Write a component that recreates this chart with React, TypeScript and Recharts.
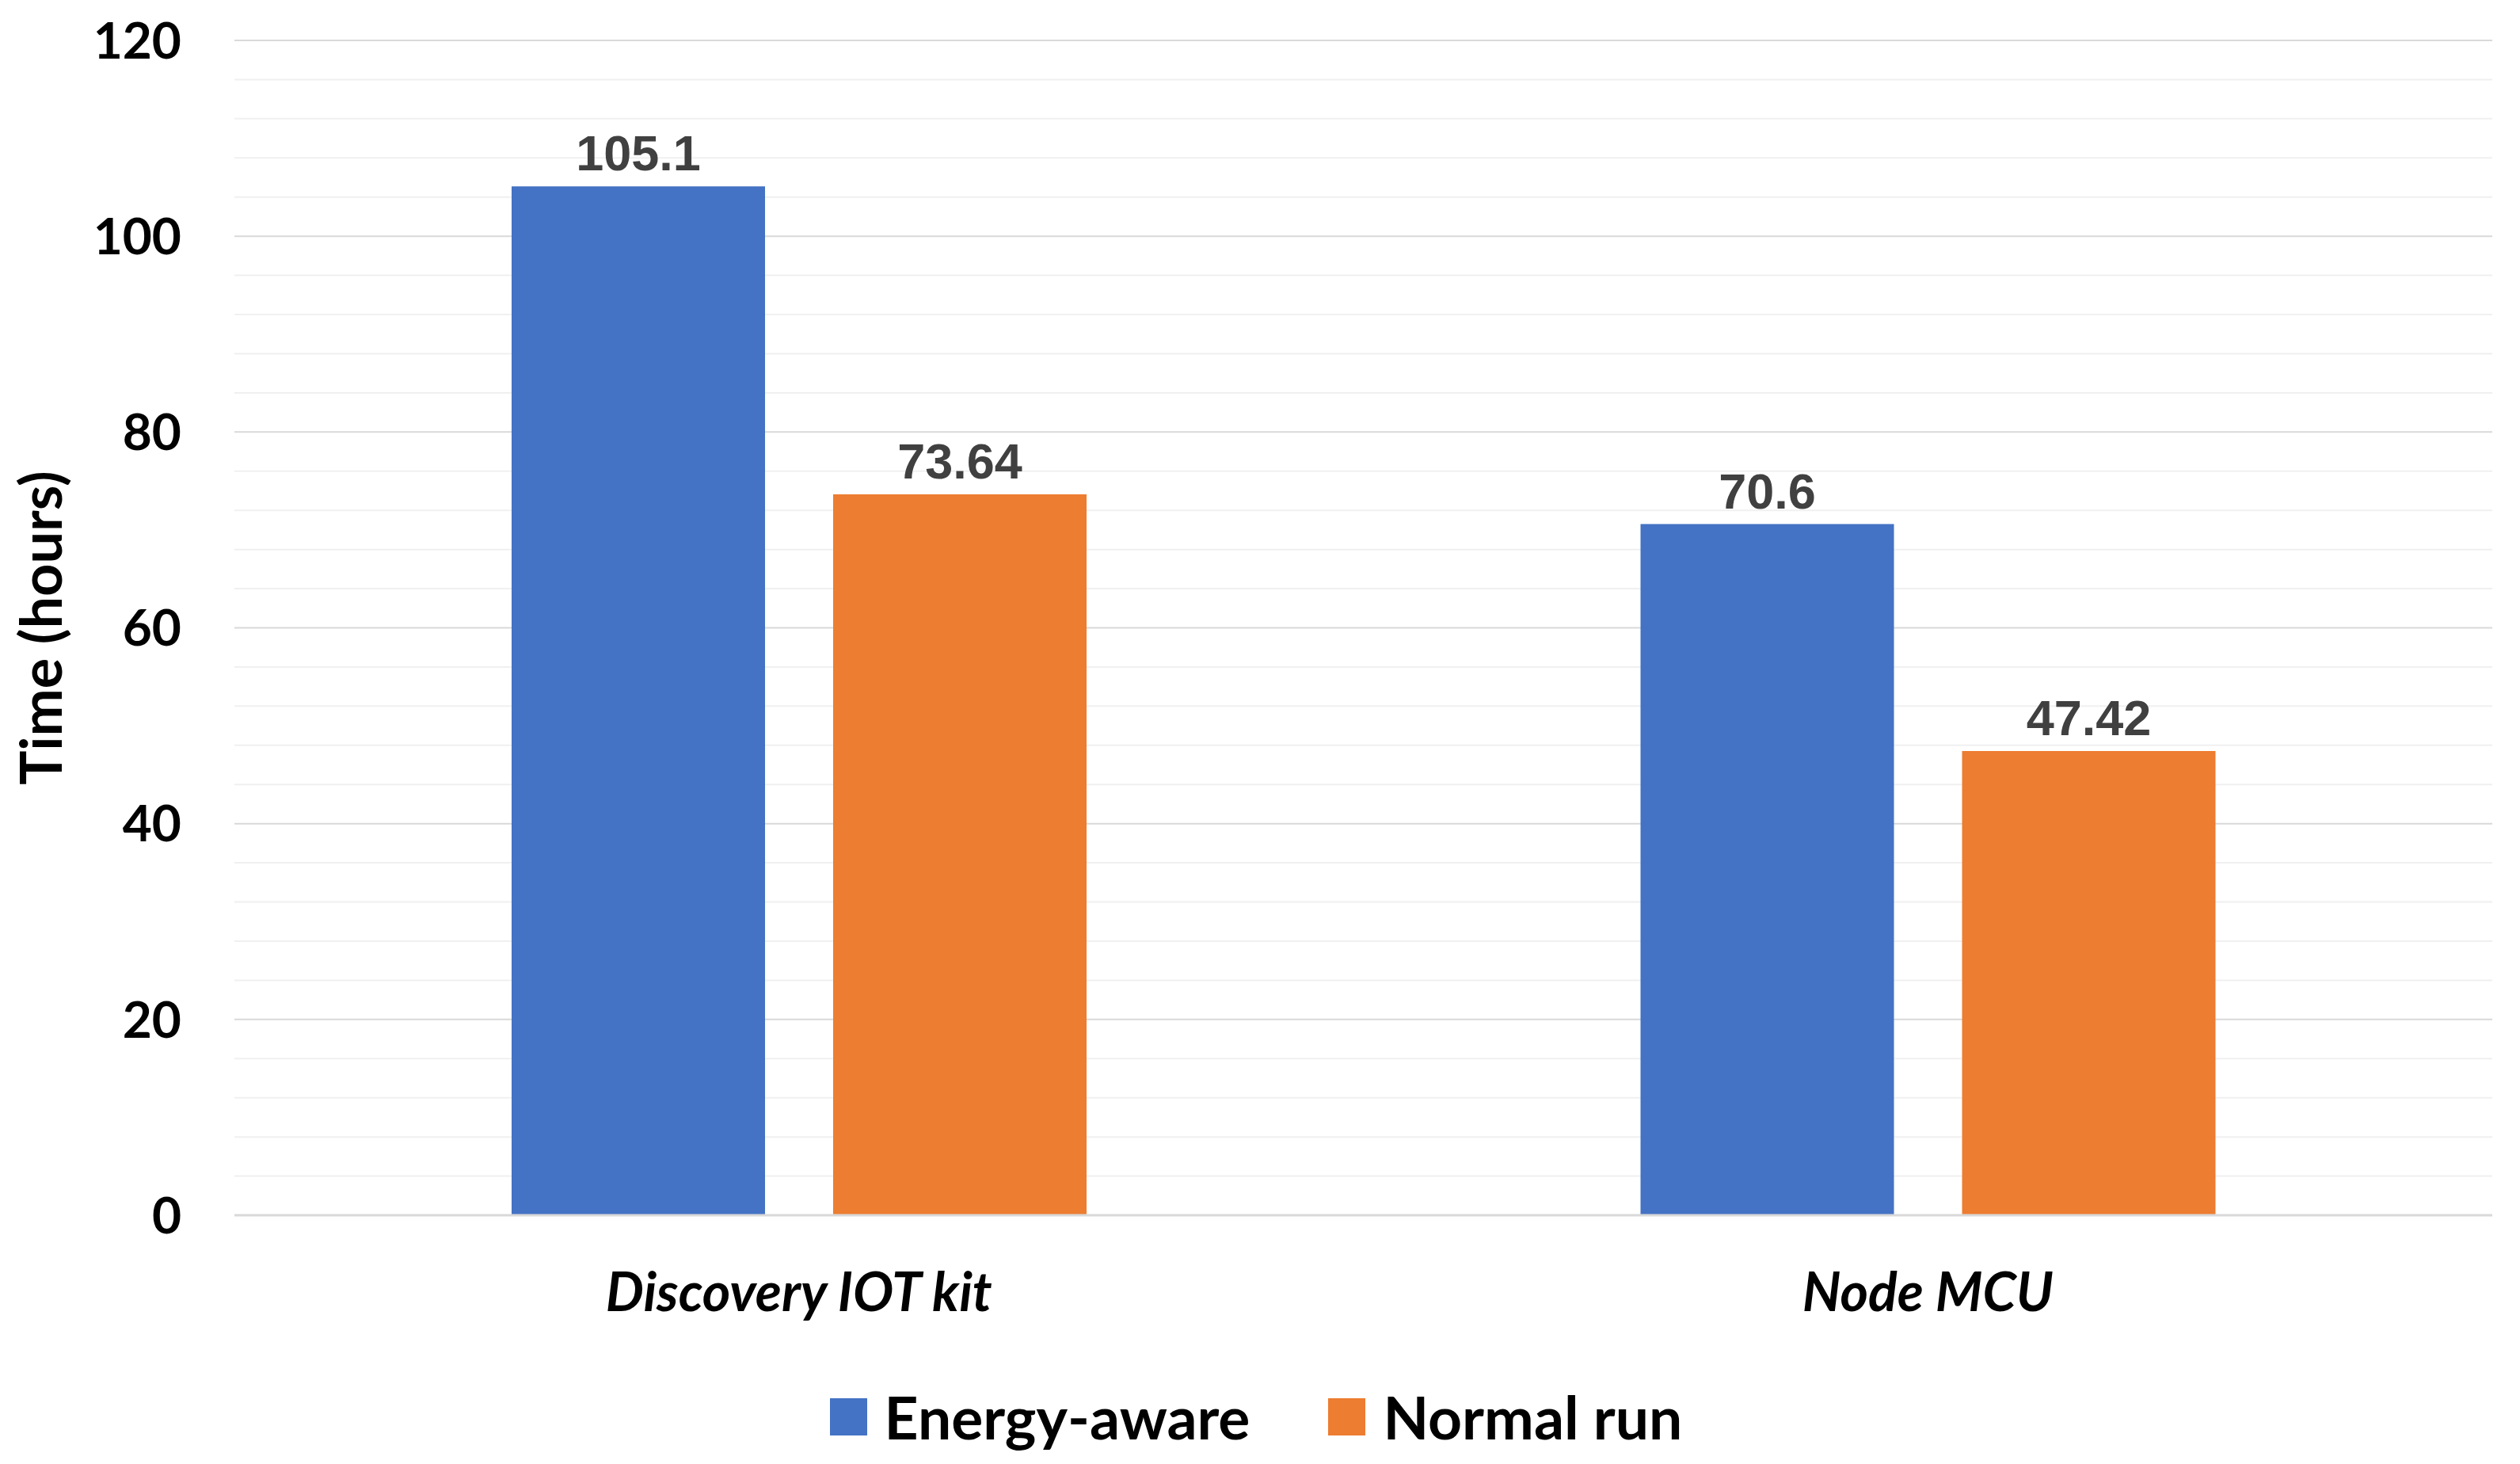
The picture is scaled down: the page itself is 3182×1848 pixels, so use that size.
import React from 'react';
import { BarChart, Bar, XAxis, YAxis, CartesianGrid, Legend, LabelList } from 'recharts';

const categories = ['Discovery IOT kit', 'Node MCU'];
const energyAware = [105.1, 70.6];
const normalRun = [73.64, 47.42];
const yTicks = [0, 20, 40, 60, 80, 100, 120];
const minorTicks = [4, 8, 12, 16, 24, 28, 32, 36, 44, 48, 52, 56, 64, 68, 72, 76, 84, 88, 92, 96, 104, 108, 112, 116];
const seriesNames = ['Energy-aware', 'Normal run'];
const seriesColors = ['#4472C4', '#ED7D31'];

const data = categories.map((c, i) => ({ name: c, energy: energyAware[i], normal: normalRun[i] }));

const W = 3182;
const H = 1848;

const YLabel = (props: any) => {
  const vb = props.viewBox || {};
  const cy = vb.y + vb.height / 2;
  return (
    <text
      x={50}
      y={cy}
      transform={`rotate(-90, 50, ${cy})`}
      textAnchor="middle"
      dominantBaseline="central"
      fontFamily="Lato"
      fontWeight={700}
      fontSize={72}
      fill="#000"
    >
      Time (hours)
    </text>
  );
};

const LegendContent = () => (
  <div style={{ display: 'flex', justifyContent: 'center', alignItems: 'center', height: 47, paddingRight: 10 }}>
    {seriesNames.map((n, i) => (
      <div key={n} style={{ display: 'flex', alignItems: 'center', marginLeft: i === 0 ? 0 : 99 }}>
        <div style={{ width: 47, height: 47, background: seriesColors[i] }} />
        <span
          style={{
            marginLeft: 22,
            fontFamily: 'Lato',
            fontWeight: 700,
            fontSize: 75,
            lineHeight: 1,
            color: '#000',
          }}
        >
          {n}
        </span>
      </div>
    ))}
  </div>
);

export default function App() {
  return (
    <div style={{ position: 'absolute', left: 0, top: 0, width: W, height: H, background: '#fff' }}>
      <BarChart
        width={W}
        height={H}
        data={data}
        margin={{ top: 51, right: 35, left: 0, bottom: 0 }}
        barGap={86}
      >
        <CartesianGrid vertical={false} horizontalValues={minorTicks} stroke="#F0F0F0" strokeWidth={2} />
        <CartesianGrid vertical={false} stroke="#D9D9D9" strokeWidth={2} />
        <XAxis
          dataKey="name"
          height={314}
          tickLine={false}
          tickSize={0}
          tickMargin={73}
          axisLine={{ stroke: '#D9D9D9', strokeWidth: 3 }}
          tick={{ fontFamily: 'Lato', fontWeight: 700, fontStyle: 'italic', fontSize: 68, fill: '#000' }}
          interval={0}
        />
        <YAxis
          width={296}
          domain={[0, 120]}
          ticks={yTicks}
          axisLine={false}
          tickLine={false}
          tickSize={0}
          tickMargin={67}
          tick={{ fontFamily: 'Lato', fontWeight: 700, fontSize: 64, fill: '#000' }}
          label={<YLabel />}
        />
        <Legend
          verticalAlign="middle"
          layout="horizontal"
          align="center"
          wrapperStyle={{ top: 1765, left: 0, width: W }}
          content={<LegendContent />}
        />
        <Bar dataKey="energy" name={seriesNames[0]} fill={seriesColors[0]} barSize={320} isAnimationActive={false}>
          <LabelList
            dataKey="energy"
            position="top"
            offset={20}
            style={{ fontFamily: 'Liberation Sans', fontWeight: 700, fontSize: 63, fill: '#404040' }}
          />
        </Bar>
        <Bar dataKey="normal" name={seriesNames[1]} fill={seriesColors[1]} barSize={320} isAnimationActive={false}>
          <LabelList
            dataKey="normal"
            position="top"
            offset={20}
            style={{ fontFamily: 'Liberation Sans', fontWeight: 700, fontSize: 63, fill: '#404040' }}
          />
        </Bar>
      </BarChart>
    </div>
  );
}
